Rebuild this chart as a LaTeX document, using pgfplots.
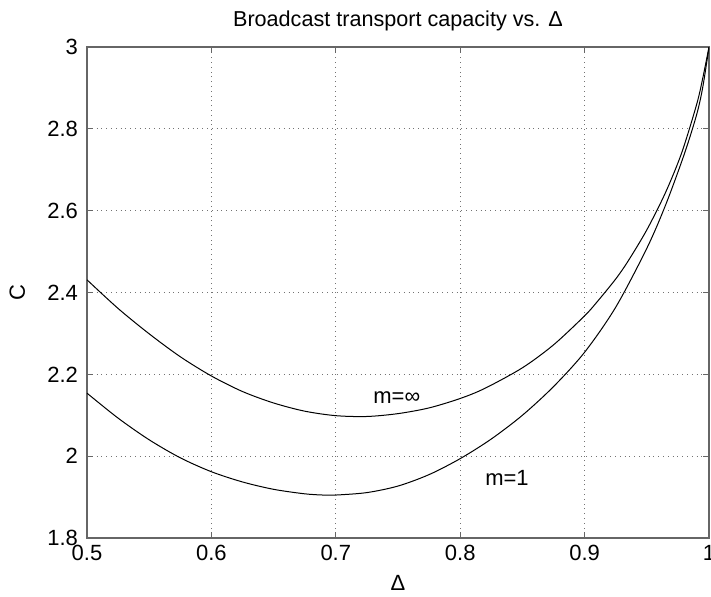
\documentclass[border=0pt]{standalone}
\usepackage{pgfplots}
\pgfplotsset{compat=1.18}
\usepackage{fontspec}
\setmainfont{Liberation Sans}
\begin{document}
\begin{tikzpicture}
\begin{axis}[
  at={(0,0)}, anchor=south west,
  scale only axis, width=311pt, height=245.5pt,
  xmin=0.5, xmax=1, ymin=1.8, ymax=3,
  xtick={0.5,0.6,0.7,0.8,0.9,1},
  xticklabels={0.5,0.6,0.7,0.8,0.9,1},
  ytick={1.8,2,2.2,2.4,2.6,2.8,3},
  yticklabels={1.8,2,2.2,2.4,2.6,2.8,3},
  tick align=inside, major tick length=3pt,
  xtick pos=both, ytick pos=both,
  grid=major,
  major grid style={black!55, dotted, line width=0.5pt},
  axis line style={black!60, line width=0.6pt},
  every tick/.style={black!60, line width=0.5pt},
  ticklabel style={font=\fontsize{11}{13}\selectfont},
  xticklabel style={anchor=base, yshift=-11pt},
  yticklabel style={anchor=east, xshift=-1pt},
  clip=true,
]
\addplot[black, line width=0.5pt, smooth, tension=0.5] coordinates {
(0.500,2.431) (0.525,2.361) (0.550,2.299) (0.575,2.243) (0.600,2.196)
(0.625,2.158) (0.650,2.130) (0.675,2.110) (0.700,2.099) (0.725,2.097)
(0.750,2.104) (0.775,2.118) (0.800,2.141) (0.820,2.166) (0.850,2.216)
(0.875,2.272) (0.900,2.343) (0.910,2.377) (0.925,2.433) (0.935,2.477)
(0.950,2.553) (0.965,2.644) (0.978,2.741) (0.990,2.859) (0.995,2.924)
(1.000,3.000)
};
\addplot[black, line width=0.5pt, smooth, tension=0.5] coordinates {
(0.500,2.154) (0.525,2.093) (0.550,2.040) (0.575,1.996) (0.600,1.962)
(0.625,1.937) (0.650,1.919) (0.675,1.908) (0.690,1.905) (0.700,1.905)
(0.725,1.911) (0.750,1.927) (0.775,1.955) (0.800,1.994) (0.825,2.042)
(0.850,2.100) (0.875,2.170) (0.900,2.254) (0.925,2.364) (0.950,2.508)
(0.965,2.613) (0.980,2.737) (0.990,2.834) (0.995,2.902) (1.000,3.000)
};
\node[font=\fontsize{11}{13}\selectfont] at (axis cs:0.749,2.144) {m=∞};
\node[font=\fontsize{11}{13}\selectfont] at (axis cs:0.8376,1.946) {m=1};
\end{axis}
\node[anchor=base, font=\fontsize{11}{13}\selectfont] at (155.5pt,-26pt) {Δ};
\node[anchor=base, rotate=90, font=\fontsize{11}{13}\selectfont] at (-31pt,122.5pt) {C};
\node[anchor=base, font=\fontsize{10.8}{13}\selectfont] at (155.5pt,255.5pt) {Broadcast transport capacity vs. Δ};
\pgfresetboundingbox
\path[use as bounding box] (-43.5pt,-29pt) rectangle (312pt,269pt);
\end{tikzpicture}
\end{document}
